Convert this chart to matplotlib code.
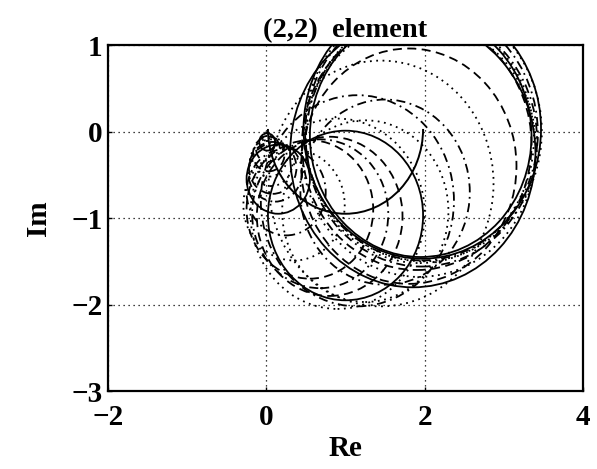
import matplotlib
matplotlib.use("Agg")
import matplotlib.pyplot as plt
from matplotlib.patches import Circle, Arc

plt.rcParams['font.family'] = ['Liberation Serif', 'DejaVu Serif']

# Nyquist locus of the (2,2) element (half circle from w=0 to w=inf)
locus_center = (1.0, 0.03)
locus_radius = 0.98

# Gershgorin circles: centres on the locus, radii, line styles
circ_re = [1.97, 1.98, 1.96, 1.95, 1.94, 1.96, 1.93, 1.85, 1.90, 1.80,
           1.45, 1.50, 1.25, 1.15, 1.00, 0.90, 0.80, 0.68, 0.55, 0.35,
           0.25, 0.15, 0.11, 0.08, 0.06, 0.04, 0.03, 0.02, 0.01, 0.005]
circ_im = [0.03, 0.00, -0.02, -0.05, -0.08, -0.10, -0.20, -0.25, -0.15, -0.40,
           -0.60, -0.70, -0.92, -0.80, -0.97, -0.95, -0.98, -0.95, -0.90, -0.85,
           -0.70, -0.55, -0.47, -0.42, -0.36, -0.30, -0.26, -0.20, -0.12, -0.06]
circ_r = [1.50, 1.50, 1.47, 1.40, 1.44, 1.46, 1.48, 1.55, 1.45, 1.36,
          1.42, 1.07, 1.05, 1.22, 0.98, 1.10, 0.92, 0.86, 0.80, 0.64,
          0.50, 0.40, 0.34, 0.30, 0.27, 0.22, 0.20, 0.15, 0.10, 0.05]
circ_style = ['-', ':', '-.', '-', ':', '-.', ':', '-', '--', '--',
              ':', '-.', ':', '-.', '-', ':', '--', '-.', '--', ':',
              '-.', '-', '-.', '--', ':', ':', '--', '-.', '-', ':']

xticks = [-2, 0, 2, 4]
yticks = [-3, -2, -1, 0, 1]
title = "(2,2)  element"

dash_map = {'-': '-', '--': (0, (5, 3)), ':': (0, (1, 2.5)),
            '-.': (0, (5, 2.5, 1, 2.5))}

fig = plt.figure(figsize=(5.97, 4.69), dpi=100)
ax = fig.add_axes([0.181, 0.166, 0.7955, 0.738])
ax.set_xlim(-2, 4)
ax.set_ylim(-3, 1)

for x0, y0, r, st in zip(circ_re, circ_im, circ_r, circ_style):
    c = Circle((x0, y0), r, fill=False, edgecolor='black', linewidth=1.3,
               linestyle=dash_map[st])
    ax.add_patch(c)

arc = Arc(locus_center, 2 * locus_radius, 2 * locus_radius, theta1=180,
          theta2=360, edgecolor='black', linewidth=1.4)
ax.add_patch(arc)

ax.set_xticks(xticks)
ax.set_yticks(yticks)
ax.set_xticklabels([str(v).replace('-', '\u2212') for v in xticks])
ax.set_yticklabels([str(v).replace('-', '\u2212') for v in yticks])
ax.grid(True, linestyle=(0, (1, 3)), color='black', linewidth=0.9)
ax.tick_params(direction='in', length=3, width=1, labelsize=21)
ax.tick_params(axis='x', pad=9)
ax.tick_params(axis='y', pad=4)
for lab in ax.get_xticklabels() + ax.get_yticklabels():
    lab.set_fontweight('bold')
for sp in ax.spines.values():
    sp.set_linewidth(1.6)

ax.set_title(title, fontsize=20.5, fontweight='bold', pad=6)
ax.set_xlabel("Re", fontsize=21, fontweight='bold', labelpad=3)
ax.set_ylabel("Im", fontsize=21, fontweight='bold', labelpad=14)

fig.savefig("out.png", dpi=100)
